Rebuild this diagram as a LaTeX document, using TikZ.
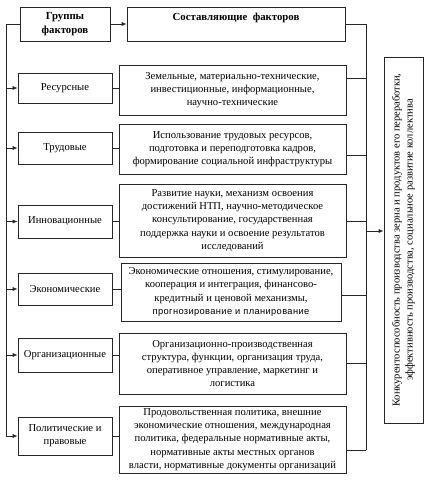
\documentclass[tikz,border=0pt]{standalone}
\usepackage{fontspec}
\setmainfont{Liberation Serif}
\newfontfamily\arialfont[LetterSpace=4]{Liberation Sans}
\usepackage{tikz}
\usetikzlibrary{arrows,arrows.meta,positioning,calc}

\begin{document}
\begin{tikzpicture}[x=1pt,y=-1pt,
	box/.style={draw=black!85, line width=0.7pt, inner sep=2pt, align=center, font=\fontsize{10.6}{13.2}\selectfont},
	grpbox/.style={box, minimum width=94, minimum height=32},
	cntbox/.style={box, minimum width=227},
	link/.style={draw=black!85, line width=0.7pt},
	arr/.style={link, -{Latex[length=5pt,width=4pt]}}]
	\useasboundingbox (0,0) rectangle (436,483);
	
	% Header row
	\node[grpbox, minimum width=90, minimum height=34, font=\bfseries\fontsize{10.8}{13.6}\selectfont] (grp) at (65,24) {Группы\\факторов};
	\node[box, minimum width=218, minimum height=34, font=\bfseries\fontsize{10.8}{13.6}\selectfont] (head) at (236,24) {Составляющие\ \ факторов\\\mbox{}};
	\draw[arr] (grp) -- (head);
	
	% Groups of factors
	\foreach \nm/\yy/\hh/\txt in {res/88/30/Ресурсные, trud/148/32/Трудовые, innov/221.5/33/Инновационные, econ/289/32/Экономические, org/355/34/Организационные, pol/436/38/{Политические и\\правовые}}
	\node[grpbox, minimum height=\hh] (\nm) at (65,\yy) {\txt};
	
	% Components of factors
	\node[cntbox, minimum height=50] (resC) at (232.5,90) {Земельные, материально-технические,\\инвестиционные, информационные,\\научно-технические};
	\node[cntbox, minimum height=50] (trudC) at (232.5,149) {Использование трудовых ресурсов,\\подготовка и переподготовка кадров,\\формирование социальной инфраструктуры};
	\node[cntbox, minimum height=73] (innovC) at (232.5,220.5) {Развитие науки, механизм освоения\\достижений НТП, научно-методическое\\консультирование, государственная\\поддержка науки и освоение результатов\\исследований};
	\node[cntbox, minimum width=220, minimum height=58] (econC) at (231,292) {Экономические отношения, стимулирование,\\кооперация и интеграция, финансово-\\кредитный и ценовой механизмы,\\{\arialfont\fontsize{9.3}{13}\selectfont прогнозирование и планирование}};
	\node[cntbox, minimum height=61] (orgC) at (232.5,363.5) {Организационно-производственная\\структура, функции, организация труда,\\оперативное управление, маркетинг и\\логистика};
	\node[cntbox, minimum height=67] (polC) at (232.5,439.5) {Продовольственная политика, внешние\\экономические отношения, международная\\политика, федеральные нормативные акты,\\нормативные акты местных органов\\власти, нормативные документы организаций};
	
	% Result
	\node[box, rotate=90, minimum width=366, minimum height=39, inner sep=1pt, font=\fontsize{10.5}{13}\selectfont] (goal) at (403.5,240) {Конкурентоспособность производства зерна и продуктов его переработки,\\эффективность производства, социальное развитие коллектива};
	
	% Left bus
	\coordinate (lb) at (6,436);
	\draw[link] (grp.west) -| (lb);
	\foreach \nm in {res,trud,innov,econ,org,pol}
	{
		\draw[arr] (lb |- \nm.west) -- (\nm.west);
		\draw[link] (\nm.east) -- (\nm.east -| \nm C.west);
	}
	
	% Right bus
	\coordinate (rb) at (366,450);
	\coordinate (rin) at (366,231);
	\draw[link] (head.east) -| (rb);
	\foreach \nm/\dy in {resC/-12, trudC/6, innovC/1, econC/3, orgC/0, polC/10.5}
	\draw[link] ($(\nm.east)+(0,\dy)$) coordinate (p) -- (p -| rb);
	\draw[arr] (rin) -- (rin -| goal.north);
	
\end{tikzpicture}
\end{document}
